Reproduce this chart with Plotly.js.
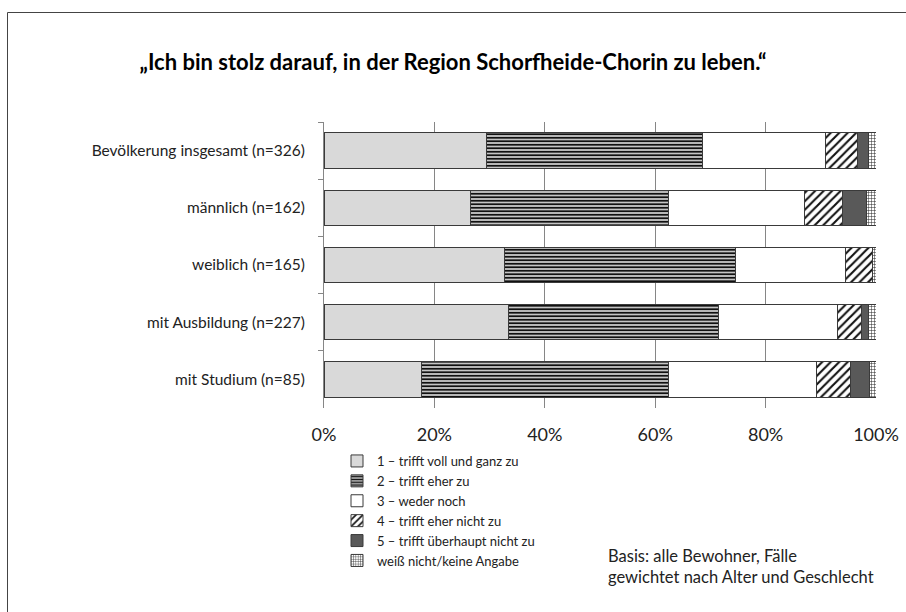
<!DOCTYPE html>
<html>
<head>
<meta charset="utf-8">
<script src="https://cdn.plot.ly/plotly-3.0.1.min.js"></script>
<style>
html,body{margin:0;padding:0;background:#fff;}
#chart{width:906px;height:612px;}
</style>
</head>
<body>
<div id="chart"></div>
<script>
// Categories (top to bottom)
const categories = [
  "Bevölkerung insgesamt (n=326)",
  "männlich (n=162)",
  "weiblich (n=165)",
  "mit Ausbildung (n=227)",
  "mit Studium (n=85)"
];
// Series names
const seriesNames = [
  "1 – trifft voll und ganz zu",
  "2 – trifft eher zu",
  "3 – weder noch",
  "4 – trifft eher nicht zu",
  "5 – trifft überhaupt nicht zu",
  "weiß nicht/keine Angabe"
];
// Values (%), per series, in category order
const s1 = [29.5, 26.5, 32.7, 33.4, 17.6];
const s2 = [39.1, 35.9, 41.8, 38.1, 44.8];
const s3 = [22.2, 24.6, 20.0, 21.5, 26.9];
const s4 = [5.8, 6.9, 4.8, 4.4, 6.1];
const s5 = [2.0, 4.3, 0.0, 1.2, 3.4];
const s6 = [1.4, 1.8, 0.7, 1.4, 1.2];
const xTickVals = [0, 20, 40, 60, 80, 100];
const xTickText = ["0%", "20%", "40%", "60%", "80%", "100%"];

const FONT = "Lato, 'Open Sans', sans-serif";
const lineStyle = {color: "#3a3a3a", width: 1};
const styles = [
  {color: "#d9d9d9", line: lineStyle},
  {color: "#ffffff", line: lineStyle, pattern: {shape: "-", fgcolor: "#111", bgcolor: "#c4c4c4", size: 3.5, solidity: 0.5, fillmode: "replace"}},
  {color: "#ffffff", line: lineStyle},
  {color: "#ffffff", line: lineStyle, pattern: {shape: "/", fgcolor: "#111", bgcolor: "#ffffff", size: 6, solidity: 0.35, fillmode: "replace"}},
  {color: "#595959", line: lineStyle},
  {color: "#ffffff", line: lineStyle, pattern: {shape: "+", fgcolor: "#222", bgcolor: "#ffffff", size: 3, solidity: 0.3, fillmode: "replace"}}
];
const values = [s1, s2, s3, s4, s5, s6];

const traces = values.map((v, i) => ({
  type: "bar",
  orientation: "h",
  name: seriesNames[i],
  y: categories,
  x: v,
  marker: styles[i],
  width: 0.62,
  hoverinfo: "x+name"
}));

// plot area: x 324..876, y 122..408
const L = 324, R = 876, T = 122, B = 408;
const pw = R - L, ph = B - T;
const px = (xp) => (xp - L) / pw;
const py = (yp) => (B - yp) / ph;

const layout = {
  width: 906,
  height: 612,
  paper_bgcolor: "#ffffff",
  plot_bgcolor: "#ffffff",
  barmode: "stack",
  margin: {l: L, r: 906 - R, t: T, b: 612 - B, pad: 0},
  font: {family: FONT, color: "#000"},
  title: {
    text: "<b>„Ich bin stolz darauf, in der Region Schorfheide-Chorin zu leben.“</b>",
    font: {family: FONT, size: 22, color: "#000"},
    x: 0.5, xref: "container", xanchor: "center",
    y: 1 - 62 / 612, yref: "container", yanchor: "middle"
  },
  xaxis: {
    range: [0, 100],
    tickvals: xTickVals,
    ticktext: xTickText,
    showgrid: true,
    gridcolor: "#868686",
    gridwidth: 1,
    zeroline: false,
    showline: false,
    ticks: "",
    tickfont: {family: FONT, size: 18, color: "#222"},
    ticklabelstandoff: 14,
    fixedrange: true
  },
  yaxis: {
    type: "category",
    autorange: "reversed",
    showline: true,
    linecolor: "#868686",
    ticks: "outside",
    tickson: "boundaries",
    ticklen: 5,
    tickcolor: "#868686",
    showgrid: false,
    tickfont: {family: FONT, size: 15.5, color: "#222"},
    ticklabelstandoff: 15,
    fixedrange: true
  },
  showlegend: true,
  legend: {
    x: px(337), xanchor: "left",
    y: py(446), yanchor: "top",
    traceorder: "normal",
    font: {family: FONT, size: 13, color: "#222"},
    bgcolor: "rgba(0,0,0,0)",
    tracegroupgap: 0,
    itemclick: false
  },
  annotations: [{
    xref: "paper", yref: "paper",
    x: px(606), y: py(566),
    xanchor: "left", yanchor: "middle",
    align: "left",
    showarrow: false,
    text: "Basis: alle Bewohner, Fälle<br>gewichtet nach Alter und Geschlecht",
    font: {family: FONT, size: 16.5, color: "#222"}
  }],
  shapes: [{
    type: "rect", xref: "paper", yref: "paper",
    x0: px(7.5), x1: px(920), y0: py(12.5), y1: py(620),
    line: {color: "#444", width: 1}, fillcolor: "rgba(0,0,0,0)", layer: "below"
  }]
};

Plotly.newPlot("chart", traces, layout, {displayModeBar: false, staticPlot: true});
</script>
</body>
</html>
